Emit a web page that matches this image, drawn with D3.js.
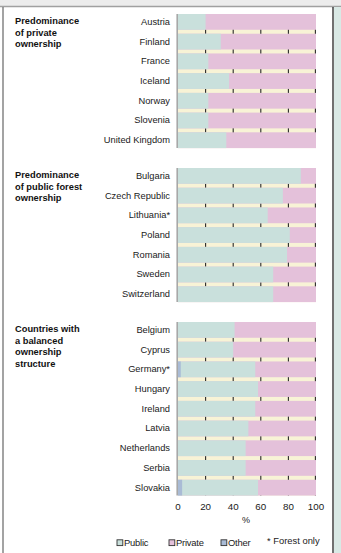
<!DOCTYPE html>
<html>
<head>
<meta charset="utf-8">
<script src="https://cdn.jsdelivr.net/npm/d3@7"></script>
<style>
  html, body { margin: 0; padding: 0; background: #fff; }
  svg { display: block; font-family: "Liberation Sans", Arial, sans-serif; }
</style>
</head>
<body>
<svg id="chart" width="341" height="553"></svg>
<script>
// ---- Data ----
const groupTitles = [
  ["Predominance", "of private", "ownership"],
  ["Predominance", "of public forest", "ownership"],
  ["Countries with", "a balanced", "ownership", "structure"]
];
const group1Countries = ["Austria", "Finland", "France", "Iceland", "Norway", "Slovenia", "United Kingdom"];
const group1Other  = [0, 0, 0, 0, 0, 0, 0];
const group1Public = [20, 31, 22, 37, 22, 22, 35];

const group2Countries = ["Bulgaria", "Czech Republic", "Lithuania*", "Poland", "Romania", "Sweden", "Switzerland"];
const group2Other  = [0, 0, 0, 0, 0, 0, 0];
const group2Public = [89, 76, 65, 81, 79, 69, 69];

const group3Countries = ["Belgium", "Cyprus", "Germany*", "Hungary", "Ireland", "Latvia", "Netherlands", "Serbia", "Slovakia"];
const group3Other  = [0, 0, 2, 0, 0, 0, 0, 0, 3];
const group3Public = [41, 40, 54, 58, 56, 51, 49, 49, 55];

const xTicks = [0, 20, 40, 60, 80, 100];
const legendLabels = ["Public", "Private", "Other"];
const footnote = "* Forest only";
const axisTitle = "%";

// ---- Styles ----
const colOther = "#a9bbd5", colPublic = "#c9e0dc", colPrivate = "#e4c1da";
const colCream = "#f8f3d6", colTick = "#2a2a2a";

const svg = d3.select("#chart");

// frame
svg.append("rect").attr("x", 0).attr("y", 0).attr("width", 341).attr("height", 6).attr("fill", "#ececec");
svg.append("line").attr("x1", 0).attr("x2", 341).attr("y1", 6.5).attr("y2", 6.5).attr("stroke", "#a0a0a0").attr("stroke-width", 1.5);
svg.append("rect").attr("x", 334).attr("y", 7).attr("width", 7).attr("height", 546).attr("fill", "#d9e9e5");
svg.append("line").attr("x1", 333).attr("x2", 333).attr("y1", 7).attr("y2", 553).attr("stroke", "#111").attr("stroke-width", 1.2);
svg.append("line").attr("x1", 3).attr("x2", 3).attr("y1", 7).attr("y2", 553).attr("stroke", "#666").attr("stroke-width", 1.2);

const x = d3.scaleLinear().domain([0, 100]).range([178, 316]);

const groups = [
  { countries: group1Countries, other: group1Other, pub: group1Public, top: 14 },
  { countries: group2Countries, other: group2Other, pub: group2Public, top: 168 },
  { countries: group3Countries, other: group3Other, pub: group3Public, top: 322 }
];
const pitch = 19.72, padIn = 0.2;

groups.forEach((g, gi) => {
  const n = g.countries.length;
  const y = d3.scaleBand().domain(g.countries)
    .range([g.top, g.top + pitch * (n - padIn)])
    .paddingInner(padIn).paddingOuter(0);
  const [y0, y1] = y.range();
  const gg = svg.append("g");

  // cream background
  gg.append("rect").attr("x", x(0)).attr("y", y0).attr("width", x(100) - x(0)).attr("height", y1 - y0).attr("fill", colCream);
  // grid ticks (visible in gaps)
  gg.selectAll("line.grid").data(xTicks.slice(1)).join("line")
    .attr("x1", d => x(d) - (d === 100 ? 0.6 : 0)).attr("x2", d => x(d) - (d === 100 ? 0.6 : 0))
    .attr("y1", y0).attr("y2", y1).attr("stroke", colTick).attr("stroke-width", 1.1);

  const rows = g.countries.map((c, i) => ({ c, o: g.other[i], p: g.pub[i] }));
  // private (full bar underneath)
  gg.selectAll("rect.v").data(rows).join("rect")
    .attr("x", x(0)).attr("y", d => y(d.c)).attr("width", x(100) - x(0)).attr("height", y.bandwidth()).attr("fill", colPrivate);
  // public + other cumulative
  gg.selectAll("rect.p").data(rows).join("rect")
    .attr("x", x(0)).attr("y", d => y(d.c)).attr("width", d => x(d.o + d.p) - x(0)).attr("height", y.bandwidth()).attr("fill", colPublic);
  // other
  gg.selectAll("rect.o").data(rows.filter(d => d.o > 0)).join("rect")
    .attr("x", x(0)).attr("y", d => y(d.c)).attr("width", d => x(d.o) - x(0)).attr("height", y.bandwidth()).attr("fill", colOther);

  // left axis line
  gg.append("line").attr("x1", x(0) - 0.8).attr("x2", x(0) - 0.8).attr("y1", y0).attr("y2", y1).attr("stroke", "#a8a8a8").attr("stroke-width", 1.6);

  // country labels
  gg.selectAll("text.c").data(g.countries).join("text")
    .attr("x", 170).attr("y", d => y(d) + y.bandwidth() / 2 + 0.5)
    .attr("text-anchor", "end").attr("dominant-baseline", "middle")
    .attr("font-size", 9.3).attr("fill", "#1a1a1a").text(d => d);

  // group titles
  gg.selectAll("text.t").data(groupTitles[gi]).join("text")
    .attr("x", 15).attr("y", (d, i) => g.top + 7.8 + i * 11.6)
    .attr("dominant-baseline", "middle")
    .attr("font-size", 9.3).attr("font-weight", "bold").attr("fill", "#111").text(d => d);
});

// x axis labels
svg.selectAll("text.xt").data(xTicks).join("text")
  .attr("x", d => x(d)).attr("y", 507).attr("text-anchor", "middle").attr("dominant-baseline", "middle")
  .attr("font-size", 9.8).attr("fill", "#1a1a1a").text(d => d);
svg.append("text").attr("x", x(50) - 1).attr("y", 521).attr("text-anchor", "middle").attr("dominant-baseline", "middle")
  .attr("font-size", 9).attr("fill", "#1a1a1a").text(axisTitle);

// legend
const legendX = [117, 169, 221];
const legendCols = [colPublic, colPrivate, colOther];
const lg = svg.append("g");
legendLabels.forEach((l, i) => {
  lg.append("rect").attr("x", legendX[i]).attr("y", 539.8).attr("width", 5.8).attr("height", 5.8)
    .attr("fill", legendCols[i]).attr("stroke", "#333").attr("stroke-width", 0.9);
  lg.append("text").attr("x", legendX[i] + 7).attr("y", 543.5).attr("dominant-baseline", "middle")
    .attr("font-size", 9.4).attr("fill", "#1a1a1a").attr("letter-spacing", -0.2).text(l);
});
lg.append("text").attr("x", 267).attr("y", 542).attr("dominant-baseline", "middle")
  .attr("font-size", 9.4).attr("fill", "#1a1a1a").text(footnote);
</script>
</body>
</html>
